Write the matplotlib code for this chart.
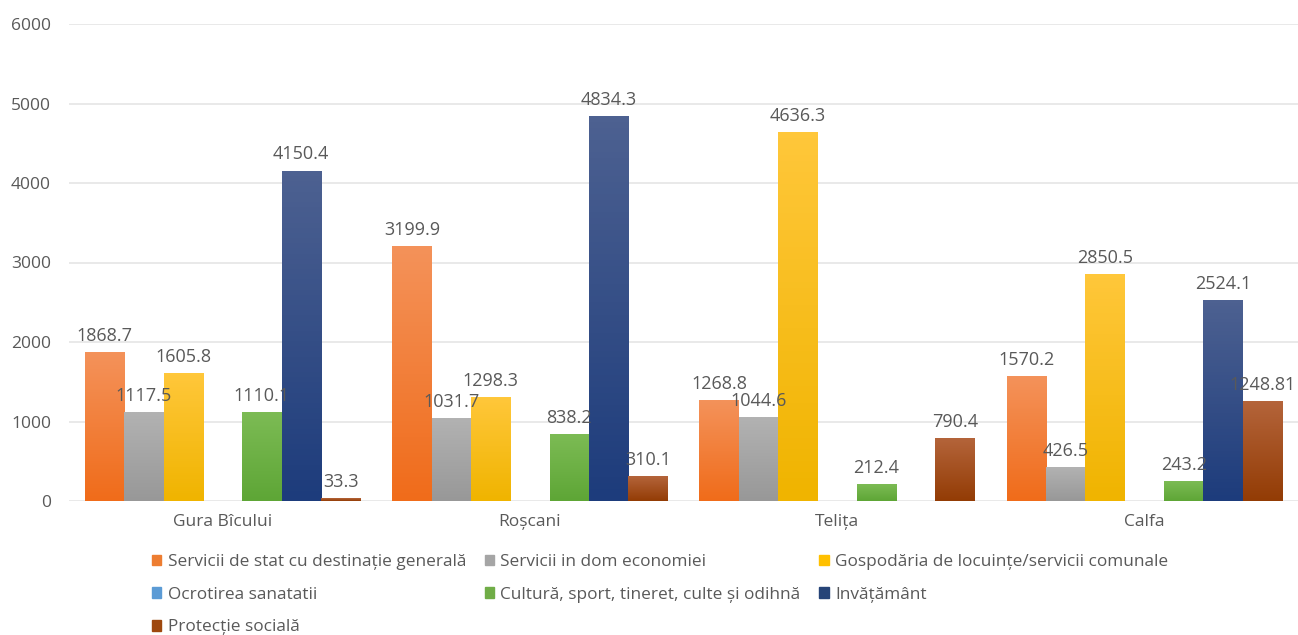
import numpy as np
import matplotlib
matplotlib.use('Agg')
import matplotlib.pyplot as plt
from matplotlib.colors import LinearSegmentedColormap
from matplotlib.patches import Patch

plt.rcParams['font.family'] = ['Open Sans', 'DejaVu Sans']

localitati = ['Gura Bîcului', 'Roșcani', 'Telița', 'Calfa']

series_names = ['Servicii de stat cu destinație generală',
                'Servicii in dom economiei',
                'Gospodăria de locuințe/servicii comunale',
                'Ocrotirea sanatatii',
                'Cultură, sport, tineret, culte și odihnă',
                'Invățământ',
                'Protecție socială']

servicii_stat = [1868.7, 3199.9, 1268.8, 1570.2]
servicii_econ = [1117.5, 1031.7, 1044.6, 426.5]
gospodaria = [1605.8, 1298.3, 4636.3, 2850.5]
ocrotirea = [0, 0, 0, 0]
cultura = [1110.1, 838.2, 212.4, 243.2]
invatamant = [4150.4, 4834.3, 0, 2524.1]
protectie = [33.3, 310.1, 790.4, 1248.81]

values = [servicii_stat, servicii_econ, gospodaria, ocrotirea,
          cultura, invatamant, protectie]

# (top, bottom) colours of the vertical gradient, plus the flat legend colour
grad = [('#f4925a', '#f06c1a', '#ed7d31'),
        ('#b2b2b2', '#989898', '#a5a5a5'),
        ('#ffc73a', '#f0b400', '#ffc000'),
        ('#6fa8dc', '#4a8ac8', '#5b9bd5'),
        ('#7cbb54', '#5ea636', '#70ad47'),
        ('#4d6191', '#1d3c7c', '#264478'),
        ('#b4643a', '#933c05', '#9e480e')]

fig = plt.figure(figsize=(12.98, 6.35), dpi=100)
ax = fig.add_axes([69 / 1298, 1 - 501 / 635, 1 - 69 / 1298, (501 - 24) / 635])

x = np.arange(len(localitati))
w = 0.128
label_color = '#595959'

for i, vals in enumerate(values):
    pos = x + (i - 3) * w
    bars = ax.bar(pos, vals, w, color=grad[i][2], zorder=2)
    cmap = LinearSegmentedColormap.from_list('g%d' % i, [grad[i][1], grad[i][0]])
    for b, v in zip(bars, vals):
        if v <= 0:
            continue
        b.set_alpha(0)
        gy = np.linspace(0, 1, 64).reshape(-1, 1)
        ax.imshow(gy, cmap=cmap, origin='lower', aspect='auto',
                  extent=[b.get_x(), b.get_x() + w, 0, v], zorder=2.5)
        ax.text(b.get_x() + w / 2, v + 95, ('%g' % v), ha='center', va='bottom',
                fontsize=13, color=label_color, zorder=5)

ax.set_xlim(-0.5, 3.5)
ax.set_ylim(0, 6000)
ax.set_yticks(np.arange(0, 6001, 1000))
ax.set_xticks(x)
ax.set_xticklabels(localitati)
ax.yaxis.grid(True, color='#e3e3e3', lw=1.1, zorder=0)
ax.set_axisbelow(True)
for s in ax.spines.values():
    s.set_visible(False)
ax.tick_params(axis='both', length=0, labelsize=12.5, labelcolor=label_color)
ax.tick_params(axis='y', pad=13)
ax.tick_params(axis='x', pad=9)

# legend laid out row by row over three columns
order = [0, 3, 6, 1, 4, 2, 5]
handles = [Patch(color=grad[k][2]) for k in order]
labels = [series_names[k] for k in order]
fig.legend(handles, labels, ncol=3, loc='upper left',
           bbox_to_anchor=(152 / 1298, 1 - 554 / 635), frameon=False,
           fontsize=12.4, labelcolor=label_color, handlelength=0.55,
           handleheight=0.55, handletextpad=0.35, columnspacing=1.1,
           labelspacing=0.97, borderpad=0, borderaxespad=0)

fig.savefig('out.png', dpi=100, facecolor='white')
